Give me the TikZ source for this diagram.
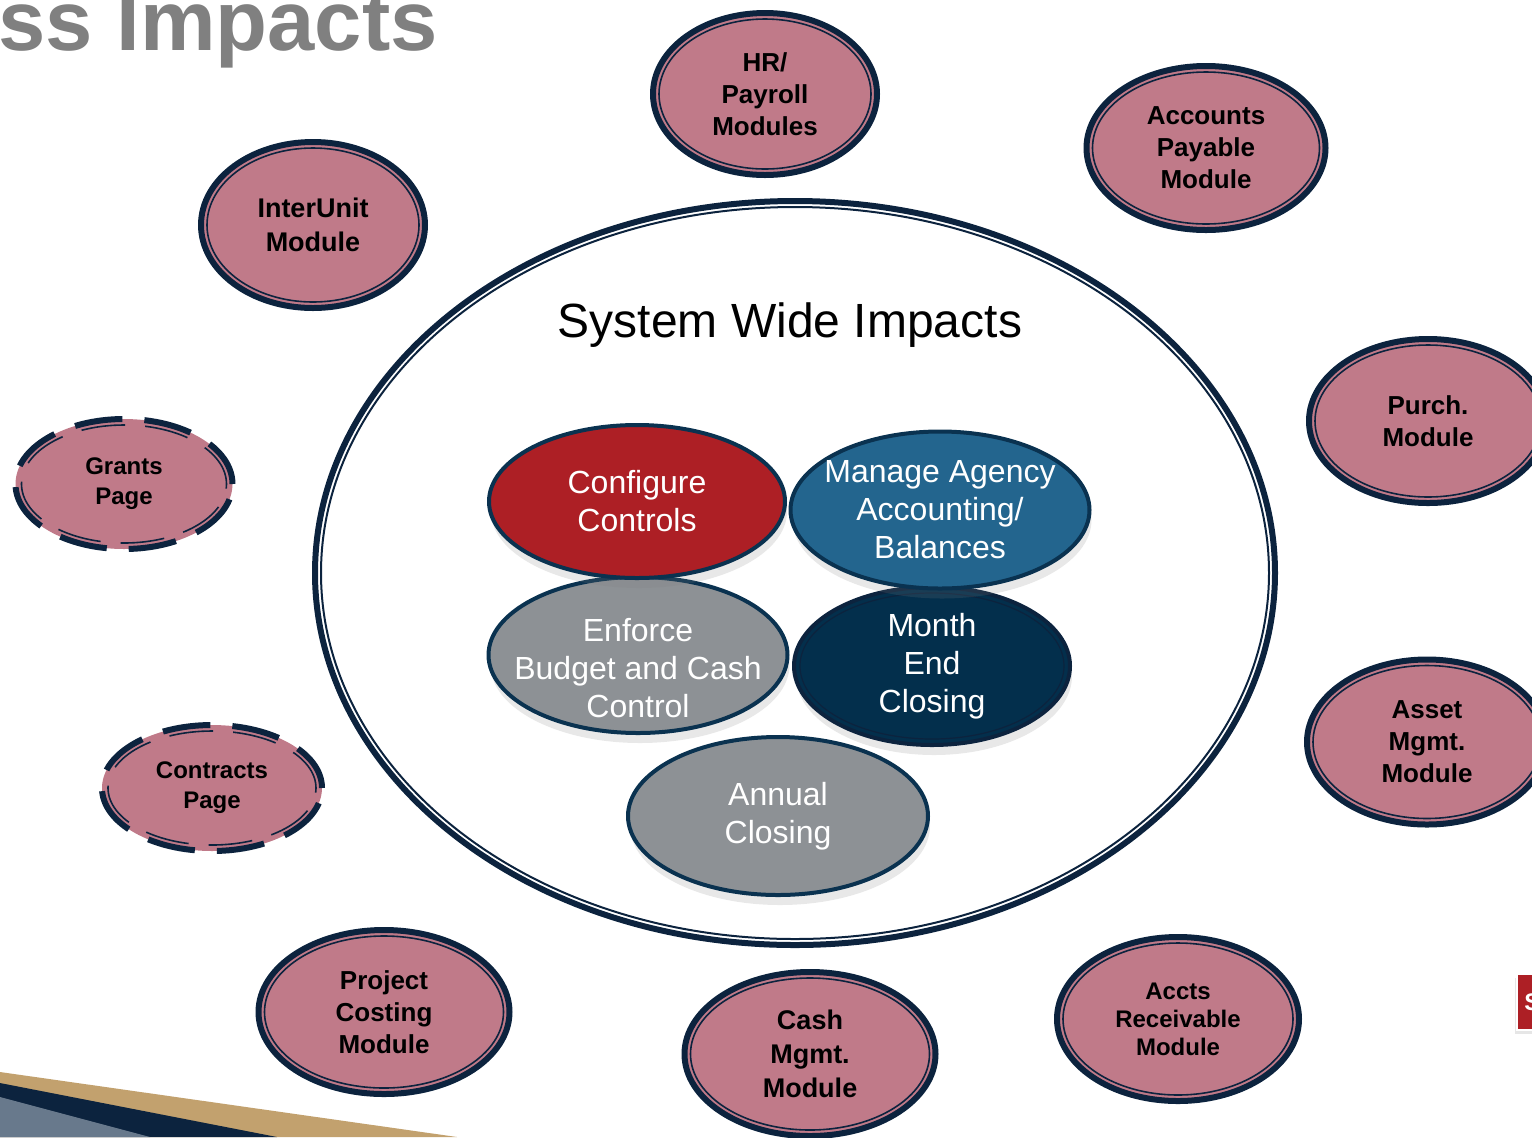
\documentclass[tikz,border=0pt]{standalone}
\usepackage{fontspec}
\setmainfont{Liberation Sans}
\usetikzlibrary{shapes.geometric,shadows,calc}

\definecolor{rose}{RGB}{192,122,137}
\definecolor{navy}{RGB}{12,35,62}
\definecolor{edge}{RGB}{10,50,80}
\definecolor{cfgred}{RGB}{173,31,37}
\definecolor{acctblue}{RGB}{35,101,142}
\definecolor{slate}{RGB}{141,145,149}
\definecolor{deepblue}{RGB}{3,47,76}
\definecolor{tan}{RGB}{194,161,110}
\definecolor{steel}{RGB}{104,121,140}
\definecolor{titlegray}{RGB}{128,128,128}

\begin{document}
\begin{tikzpicture}[x=0.5pt,y=-0.5pt,
		ring/.style={path picture={
				\draw[#1] let \p1=(path picture bounding box.north east),
				\p2=(path picture bounding box.center) in
				(\p2) ellipse ({\x1-\x2-3pt} and {\y1-\y2-3pt});}},
		module/.style={ellipse,draw=navy,line width=3pt,fill=rose,inner sep=0pt,
			align=center,font=\fontsize{13}{16}\selectfont\bfseries,
			ring={navy,line width=0.8pt,solid}},
		page node/.style={ellipse,draw=navy,line width=3pt,fill=rose,inner sep=0pt,
			align=center,font=\fontsize{12}{15}\selectfont\bfseries,
			dash pattern=on 24pt off 11pt,
			ring={navy,line width=0.8pt,dash pattern=on 22pt off 10pt}},
		task text/.style={align=center,text=white,font=\fontsize{16}{19}\selectfont},
		task node/.style={ellipse,draw=edge,line width=2pt,inner xsep=-20pt,inner ysep=-8pt,
			task text,yshift=0pt,
			drop shadow={shadow xshift=1pt,shadow yshift=-5pt,opacity=0.18}}]
	
	\useasboundingbox (0,0) rectangle (1532,1137);
	\clip (0,0) rectangle (1532,1137);
	
	% slide title and corner band
	\node[anchor=base west,inner sep=0pt,text=titlegray,
		font=\fontsize{42.5}{50}\selectfont\bfseries] (title) at (-2,50) {ss Impacts};
	\fill[tan] (0,1072) -- (457,1137) -- (0,1137) -- cycle;
	\fill[navy] (0,1083) -- (277,1137) -- (0,1137) -- cycle;
	\fill[steel] (0,1097) -- (150,1137) -- (0,1137) -- cycle;
	\node[fill=cfgred,draw=white,line width=1pt,minimum width=14.5pt,minimum height=28pt,
		drop shadow={shadow xshift=-1pt,shadow yshift=-2pt,opacity=0.2}] (tab) at (1531,1002) {};
	\node[anchor=base west,inner sep=0pt,text=white,
		font=\fontsize{12}{14}\selectfont\bfseries] (tabtext) at (1524,1010) {S};
	
	% system wide circle
	\node[ellipse,draw=navy,line width=3pt,minimum width=480pt,minimum height=372pt,
		ring={navy,line width=1pt}] (sys) at (795,573) {};
	\node[font=\fontsize{24}{28}\selectfont] (swi) at (790,325) {System Wide Impacts};
	
	\node[task node,fill=slate,minimum width=149.5pt,minimum height=78pt,
		label={[task text,yshift=-6.5pt]center:{Enforce\\Budget and Cash\\Control}}] (enf) at (638,655) {};
	\node[task node,fill=deepblue,draw=navy,minimum width=138pt,minimum height=79pt,
		ring={navy,line width=0.6pt}] (mon) at (932,666) {Month\\End\\Closing};
	\node[task node,fill=cfgred,minimum width=148pt,minimum height=76.5pt] (cfg) at (637,501.5)
		{Configure\\Controls};
	\node[task node,fill=acctblue,minimum width=149.5pt,minimum height=78.5pt] (mng) at (940,510)
		{Manage Agency\\Accounting/\\Balances};
	\node[task node,fill=slate,minimum width=150pt,minimum height=79pt] (ann) at (778,816)
		{Annual\\Closing};
	
	% modules round the circle
	\node[module,minimum width=112pt,minimum height=81pt] (hr) at (765,94) {HR/\\Payroll\\Modules};
	\node[module,minimum width=119.5pt,minimum height=82pt] (ap) at (1206,148) {Accounts\\Payable\\Module};
	\node[module,minimum width=112pt,minimum height=83pt,
		font=\fontsize{13.5}{17}\selectfont\bfseries] (iu) at (313,225) {InterUnit\\Module};
	\node[module,minimum width=119pt,minimum height=82pt] (pur) at (1428,421) {Purch.\\Module};
	\node[module,minimum width=120pt,minimum height=82.5pt] (asset) at (1427,742) {Asset\\Mgmt.\\Module};
	\node[module,minimum width=121pt,minimum height=82pt,
		font=\fontsize{12}{14}\selectfont\bfseries] (ar) at (1178,1019) {Accts\\Receivable\\Module};
	\node[module,minimum width=125.5pt,minimum height=82pt,
		font=\fontsize{13.5}{17}\selectfont\bfseries] (cash) at (810,1054) {Cash\\Mgmt.\\Module};
	\node[module,minimum width=125.5pt,minimum height=82pt] (proj) at (384,1012) {Project\\Costing\\Module};
	\node[page node,minimum width=108.5pt,minimum height=65pt] (grants) at (124,484) {Grants\\Page};
	\node[page node,minimum width=110pt,minimum height=63pt] (contr) at (212,788) {Contracts\\Page};
\end{tikzpicture}
\end{document}
